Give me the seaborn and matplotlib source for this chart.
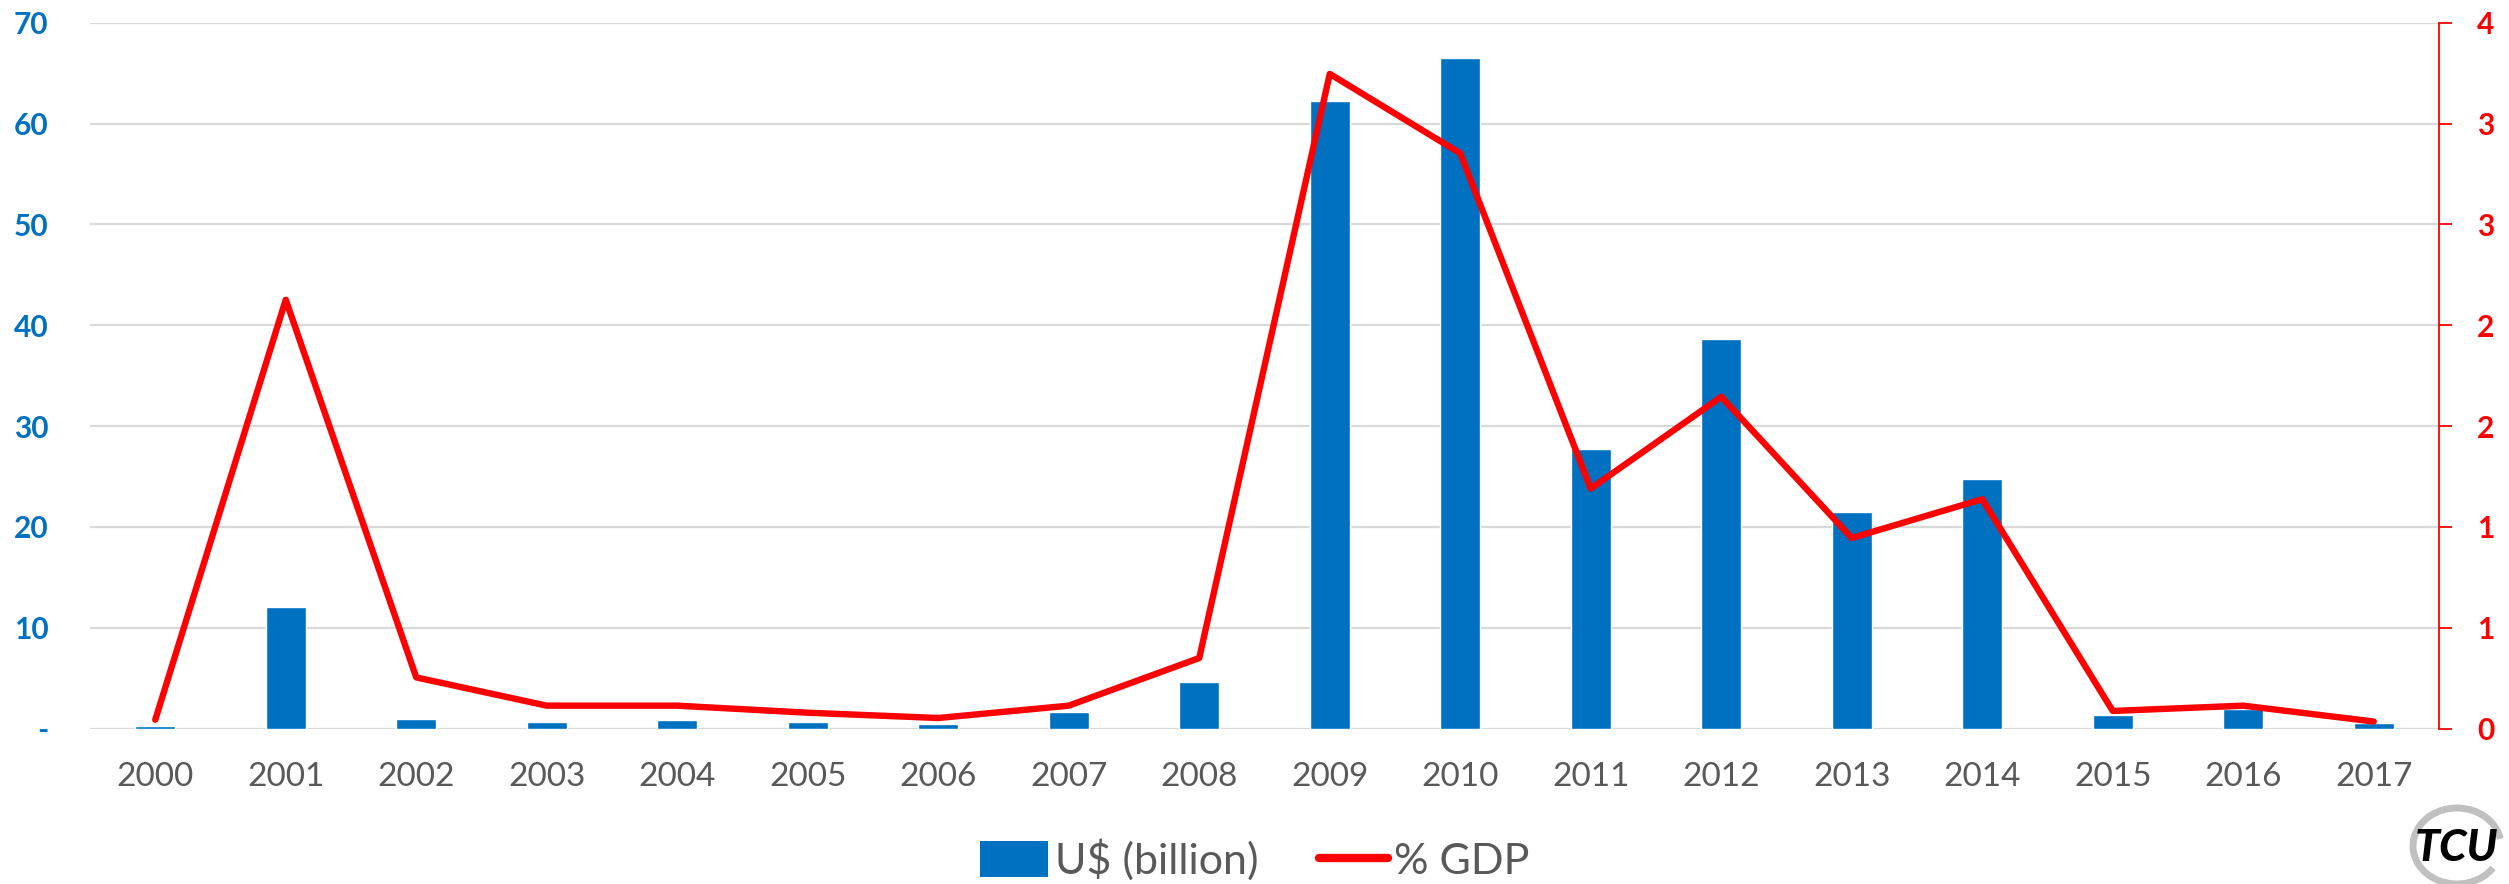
import numpy as np
import pandas as pd
import matplotlib
matplotlib.use("Agg")
import matplotlib.pyplot as plt
import seaborn as sns
from matplotlib.patches import Rectangle, Arc
from matplotlib.lines import Line2D

years = ["2000", "2001", "2002", "2003", "2004", "2005", "2006", "2007", "2008",
         "2009", "2010", "2011", "2012", "2013", "2014", "2015", "2016", "2017"]
usd_billion = [0.25, 12.1, 1.0, 0.65, 0.85, 0.65, 0.5, 1.6, 4.65,
               62.2, 66.5, 27.7, 38.6, 21.5, 24.8, 1.3, 1.9, 0.6]
pct_gdp = [0.05, 2.43, 0.29, 0.13, 0.13, 0.09, 0.06, 0.13, 0.40,
           3.71, 3.26, 1.36, 1.88, 1.08, 1.30, 0.10, 0.13, 0.04]
left_ticks = [0, 10, 20, 30, 40, 50, 60, 70]
left_labels = ["-", "10", "20", "30", "40", "50", "60", "70"]
bar_label = "U$ (billion)"
line_label = "% GDP"

BLUE = "#0070C0"
RED = "#FF0000"
GRAY = "#595959"
GRID = "#D9D9D9"

sns.set_theme(style="white")
plt.rcParams["font.family"] = ["Lato", "DejaVu Sans"]

W, H = 2509, 884
fig = plt.figure(figsize=(W / 100, H / 100), dpi=100)
ax = fig.add_axes([90 / W, 1 - 728.6 / H, (2439 - 90) / W, (728.6 - 22.7) / H])

df = pd.DataFrame({"year": years, "usd": usd_billion, "gdp": pct_gdp})

sns.barplot(data=df, x="year", y="usd", color=BLUE, width=0.31, saturation=1,
            ax=ax, zorder=2)
ax.set_xlim(-0.5, len(years) - 0.5)
ax.set_ylim(0, 70)
ax.set_yticks(left_ticks)
ax.set_yticklabels(left_labels, color=BLUE, fontsize=21.5, fontweight="bold")
ax.yaxis.grid(True, color=GRID, linewidth=1.6, zorder=0)
ax.set_axisbelow(True)
ax.tick_params(axis="y", length=0, pad=30)
ax.tick_params(axis="x", length=0, pad=24, labelsize=24, labelcolor=GRAY)
ax.set_xlabel("")
ax.set_ylabel("")
for s in ["left", "right", "top", "bottom"]:
    ax.spines[s].set_visible(False)

ax2 = ax.twinx()
sns.lineplot(x=np.arange(len(years)), y=pct_gdp, color=RED, linewidth=4.6,
             ax=ax2, zorder=3)
ax2.set_ylim(0, 4)
r_ticks = np.linspace(0, 4, 8)
ax2.set_yticks(r_ticks)
ax2.set_yticklabels([f"{v:.0f}" for v in r_ticks], color=RED, fontsize=21.5,
                    fontweight="bold")
ax2.tick_params(axis="y", length=9.4, width=1.3, color=RED, pad=18)
ax2.set_ylabel("")
for s in ["left", "top", "bottom"]:
    ax2.spines[s].set_visible(False)
ax2.spines["right"].set_color(RED)
ax2.spines["right"].set_linewidth(1.3)
ax2.grid(False)
ax.set_xlim(-0.5, len(years) - 0.5)

handles = [Rectangle((0, 0), 1, 1, facecolor=BLUE, edgecolor="none"),
           Line2D([0], [0], color=RED, linewidth=6)]
fig.legend(handles, [bar_label, line_label], loc="center",
           bbox_to_anchor=(0.5, 1 - 860 / H), ncol=2, frameon=False,
           fontsize=31, labelcolor=GRAY, handlelength=1.6, handleheight=0.9,
           handletextpad=0.15, columnspacing=1.4)

# TCU logo
fig.add_artist(Arc((2457 / W, 1 - 846 / H), 88 / W, 76 / H, theta1=25, theta2=300,
                   color="#C0C0C0", linewidth=5, transform=fig.transFigure))
fig.text(2456 / W, 1 - 848 / H, "TCU", ha="center", va="center", fontsize=32,
         fontweight="black", fontstyle="italic", color="black")

fig.savefig("out.png", dpi=100)
